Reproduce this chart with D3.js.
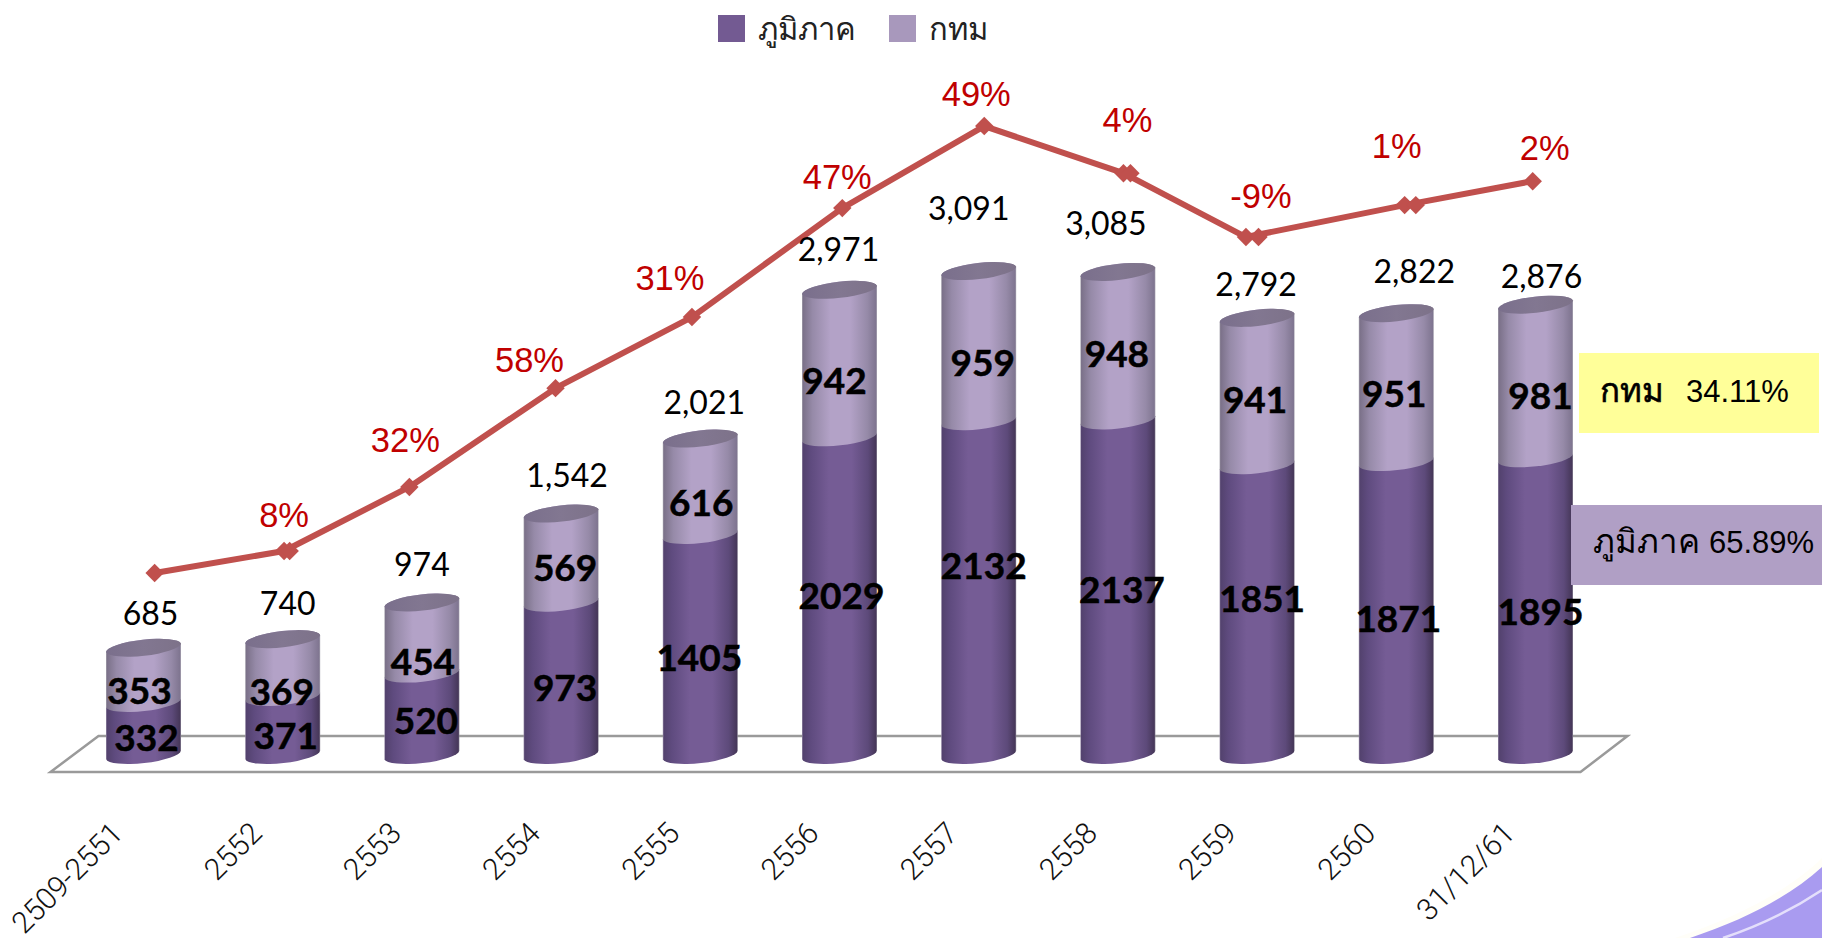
<!DOCTYPE html><html><head><meta charset="utf-8"><style>html,body{margin:0;padding:0;background:#fff;overflow:hidden}svg{display:block}</style><script src="https://cdn.jsdelivr.net/npm/d3@7"></script></head><body>
<svg id="chart" width="1822" height="938"></svg>
<script>
// ---- data ----
const categories=["2509-2551","2552","2553","2554","2555","2556","2557","2558","2559","2560","31/12/61"];
const regional=[332,371,520,973,1405,2029,2132,2137,1851,1871,1895];
const bangkok=[353,369,454,569,616,942,959,948,941,951,981];
const totals=[685,740,974,1542,2021,2971,3091,3085,2792,2822,2876];
const growthLabels=[null,"8%","32%","58%","31%","47%","49%","4%","-9%","1%","2%"];
// growth line sits on its own hidden axis (read in the bars' units)
const lineLevels=[1162,1303,1712,2343,2797,3493,4017,3716,3308,3512,3665];
// slot of each line point along the category axis, with the second overlapping marker
const lineSlots=[0.08,1.01,1.91,2.96,3.94,5.02,6.04,7.04,7.92,9.06,9.98];
const echoSlots=[null,1.05,null,null,null,null,null,7.09,8.01,9.14,null];
const seriesNames=["ภูมิภาค","กทม"];

// ---- hand placement of the labels, as in the source slide ----
const totalNudge=[[7,-34],[5,-35],[0,-38],[6,-38],[4,-36],[-1,-40],[-10,-62],[-12,-48],[-1,-33],[18,-41],[6,-28]];
const darkNudge=[[3,9],[3,10],[4,7],[4,9],[-1,13],[2,0],[5,-22],[4,2],[5,-11],[2,11],[5,5]];
const lightNudge=[[-4,16],[-1,24],[1,24],[4,10],[1,16],[-5,17],[4,17],[-1,8],[-2,9],[-2,6],[5,15]];
const growthNudge=[null,[0,-36],[-4,-47],[-26,-28],[-22,-39],[-5,-31],[-8,-32],[4,-53],[15,-41],[-8,-59],[12,-33]];

const svg=d3.select("#chart");
const defs=svg.append("defs");
function hGrad(id,stops){
  const g=defs.append("linearGradient").attr("id",id).attr("x1",0).attr("x2",1).attr("y1",0).attr("y2",0);
  stops.forEach(([o,c])=>g.append("stop").attr("offset",o).attr("stop-color",c));
}
hGrad("gDark",[[0,"#9b90aa"],[0.015,"#53426e"],[0.12,"#5f4b7f"],[0.36,"#755c95"],[0.66,"#755c95"],[0.88,"#5d4a7a"],[0.985,"#463759"],[1,"#8f8a9a"]]);
hGrad("gLight",[[0,"#a9a6b0"],[0.015,"#7b7189"],[0.14,"#968aa8"],[0.38,"#b3a2c7"],[0.64,"#b3a2c7"],[0.87,"#968aa8"],[0.985,"#7f7590"],[1,"#b0adb8"]]);
hGrad("gCap",[[0,"#7a6f8c"],[0.5,"#827791"],[1,"#7d7289"]]);

const x=d3.scaleLinear().domain([0,categories.length-1]).range([143.5,1535.5]);
const y=d3.scaleLinear().domain([0,3500]).range([755,207]);

// background swoosh, bottom right corner
svg.append("path").attr("fill","#fffef8").attr("d","M1822 858 C1790 890 1735 918 1675 938 L1822 938 Z");
svg.append("path").attr("fill","#a99bf0").attr("d","M1822 867 C1790 896 1745 920 1690 938 L1822 938 Z");
svg.append("path").attr("fill","none").attr("stroke","#e4dffb").attr("stroke-width",2.5).attr("d","M1822 890 C1795 908 1762 925 1723 938");

// floor
const base=y(0);
svg.append("path").attr("fill","none").attr("stroke","#9a9a9a").attr("stroke-width",2.5).attr("stroke-linejoin","miter")
  .attr("d",d3.line()([[x(0)-93,base+17],[x(0)-45,base-19],[x(10)+92,base-19],[x(10)+45,base+17]])+"Z");

// cylinders
const halfW=37.5,tilt=4.2,rx=37.8,ry=8.6,rot=-6.4;
function sidePath(cx,yTop,yBot){
  const lx=cx-halfW,rxx=cx+halfW;
  return `M${lx},${yTop+tilt}L${lx},${yBot+tilt}A${rx},${ry} ${rot} 0 0 ${rxx},${yBot-tilt}L${rxx},${yTop-tilt}`+
         `A${rx},${ry} ${rot} 0 0 ${lx},${yTop+tilt}Z`;
}
function capPath(cx,yc){
  const lx=cx-halfW,rxx=cx+halfW;
  return `M${lx},${yc+tilt}A${rx},${ry} ${rot} 0 0 ${rxx},${yc-tilt}A${rx},${ry} ${rot} 0 0 ${lx},${yc+tilt}Z`;
}
const bars=svg.append("g").selectAll("g").data(categories).join("g");
bars.append("path").attr("fill","url(#gDark)").attr("d",(d,i)=>sidePath(x(i),y(regional[i]),y(0)));
bars.append("path").attr("fill","url(#gLight)").attr("d",(d,i)=>sidePath(x(i),y(totals[i]),y(regional[i])));
bars.append("path").attr("fill","url(#gCap)").attr("d",(d,i)=>capPath(x(i),y(totals[i])));

// growth line
const lineG=svg.append("g");
lineG.append("path").attr("fill","none").attr("stroke","#c0504d").attr("stroke-width",6).attr("stroke-linejoin","round")
  .attr("d",d3.line().x((d,i)=>x(lineSlots[i])).y(d=>y(d))(lineLevels));
const sq=d3.symbol().type(d3.symbolSquare).size(170)();
lineG.selectAll("path.m").data(lineLevels).join("path").attr("class","m").attr("fill","#c0504d").attr("d",sq)
  .attr("transform",(d,i)=>`translate(${x(lineSlots[i])},${y(d)}) rotate(45)`);
lineG.selectAll("path.e").data(lineLevels.map((d,i)=>({d,i})).filter(o=>echoSlots[o.i]!==null)).join("path").attr("class","e").attr("fill","#c0504d").attr("d",sq)
  .attr("transform",o=>`translate(${x(echoSlots[o.i])},${y(o.d)}) rotate(45)`);

// value labels
const lab=svg.append("g").attr("text-anchor","middle");
lab.selectAll("text.dk").data(regional).join("text").attr("class","dk")
  .attr("x",(d,i)=>x(i)+darkNudge[i][0]).attr("y",(d,i)=>y(d/2)+darkNudge[i][1]).attr("dy","0.35em")
  .attr("font-family","Lato").attr("font-weight",700).attr("font-size",37).attr("fill","#000").attr("stroke","#000").attr("stroke-width",0.5).text(d=>d);
lab.selectAll("text.lt").data(bangkok).join("text").attr("class","lt")
  .attr("x",(d,i)=>x(i)+lightNudge[i][0]).attr("y",(d,i)=>y(regional[i]+d/2)+lightNudge[i][1]).attr("dy","0.35em")
  .attr("font-family","Lato").attr("font-weight",700).attr("font-size",37).attr("fill","#000").attr("stroke","#000").attr("stroke-width",0.5).text(d=>d);
lab.selectAll("text.tt").data(totals).join("text").attr("class","tt")
  .attr("x",(d,i)=>x(i)+totalNudge[i][0]).attr("y",(d,i)=>y(d)+totalNudge[i][1]).attr("dy","0.35em")
  .attr("font-family","Lato").attr("font-size",32).attr("fill","#000").text(d3.format(","));
lab.selectAll("text.gr").data(growthLabels.map((t,i)=>({t,i})).filter(o=>o.t)).join("text").attr("class","gr")
  .attr("x",o=>x(lineSlots[o.i])+growthNudge[o.i][0]).attr("y",o=>y(lineLevels[o.i])+growthNudge[o.i][1]).attr("dy","0.35em")
  .attr("font-family","Liberation Sans").attr("font-size",34.5).attr("fill","#c00000").text(o=>o.t);

// category labels
svg.append("g").selectAll("text").data(categories).join("text")
  .attr("text-anchor","end").attr("font-family","Roboto").attr("font-weight",300).attr("font-size",30).attr("fill","#111")
  .attr("transform",(d,i)=>`translate(${x(i)-19},${y(0)+80}) rotate(-45)`).text(d=>d);

// legend
const lg=svg.append("g");
[[718,"#735a92",758],[889,"#a898bc",929]].forEach(([sx,c,tx],i)=>{
  lg.append("rect").attr("x",sx).attr("y",15).attr("width",27).attr("height",27).attr("fill",c);
  lg.append("text").attr("x",tx).attr("y",40).attr("font-family","Noto Sans").attr("font-size",31).attr("fill","#222").text(seriesNames[i]);
});

// side notes
const notes=svg.append("g");
notes.append("rect").attr("x",1579).attr("y",353).attr("width",240).attr("height",80).attr("fill","#ffff99");
notes.append("rect").attr("x",1571).attr("y",505).attr("width",251).attr("height",80).attr("fill","#b09fc5");
const t1=notes.append("text").attr("x",1600).attr("y",402).attr("font-family","Liberation Sans").attr("font-size",31).attr("fill","#000");
t1.append("tspan").attr("font-size",33).attr("stroke","#000").attr("stroke-width",0.6).text(seriesNames[1]);
t1.append("tspan").attr("dx",22).text("34.11%");
const t2=notes.append("text").attr("x",1593).attr("y",553).attr("font-family","Liberation Sans").attr("font-size",31).attr("fill","#000");
t2.append("tspan").attr("font-size",33).text(seriesNames[0]);
t2.append("tspan").attr("dx",9).text("65.89%");
</script></body></html>
